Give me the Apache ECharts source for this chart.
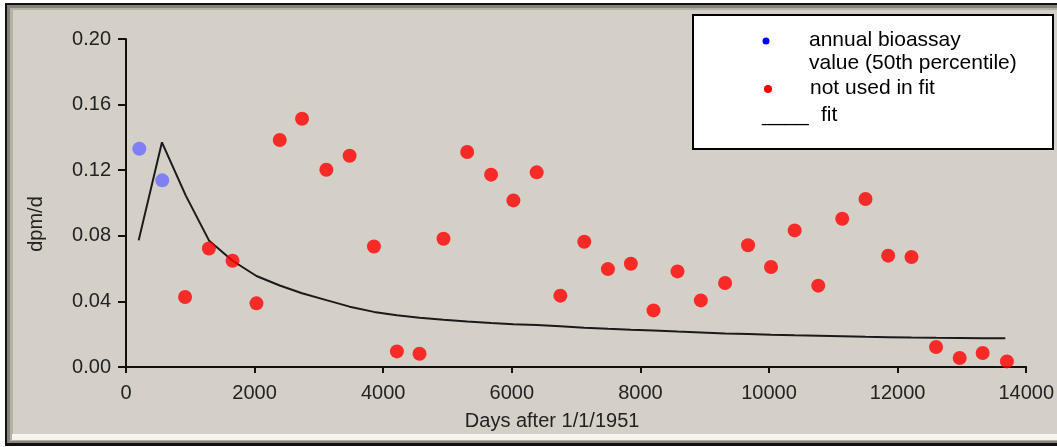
<!DOCTYPE html>
<html>
<head>
<meta charset="utf-8">
<title>dpm/d fit</title>
<script src="https://cdn.jsdelivr.net/npm/echarts@6/dist/echarts.min.js"></script>
<style>
  html, body { margin: 0; padding: 0; background: #fff; }
  #chart { width: 1057px; height: 447px; }
</style>
</head>
<body>
<div id="chart"></div>
<script>
  // values (days after 1/1/1951, dpm/d)
  var bioassayX = [207, 564];
  var bioassayY = [0.1331, 0.1138];

  var notUsedX = [919, 1289, 1657, 2029, 2391, 2738, 3116, 3478, 3856, 4213, 4565, 4938,
    5306, 5678, 6025, 6387, 6755, 7127, 7495, 7852, 8204, 8577, 8940, 9317,
    9674, 10031, 10399, 10766, 11139, 11501, 11853, 12216, 12598, 12966, 13323, 13700];
  var notUsedY = [0.0427, 0.0723, 0.0648, 0.0388, 0.1384, 0.1514, 0.1203, 0.1288, 0.0735, 0.0095, 0.0081, 0.0782,
    0.1311, 0.1173, 0.1016, 0.1187, 0.0435, 0.0764, 0.0597, 0.0630, 0.0345, 0.0583, 0.0406, 0.0512,
    0.0742, 0.0610, 0.0833, 0.0496, 0.0904, 0.1024, 0.0679, 0.0671, 0.0122, 0.0055, 0.0085, 0.0034];

  var fitX = [197, 559, 930, 1290, 1657, 2029, 2391, 2738, 3116, 3478, 3856, 4213, 4565,
    4938, 5306, 5678, 6025, 6387, 6755, 7127, 7495, 7852, 8204, 8577, 8940, 9317,
    9674, 10031, 10399, 10766, 11139, 11501, 11853, 12216, 12598, 12966, 13323, 13675];
  var fitY = [0.0772, 0.137, 0.1045, 0.0772, 0.0648, 0.0555, 0.0497, 0.0450, 0.0408, 0.0368, 0.0336, 0.0316, 0.0301,
    0.0288, 0.0277, 0.0268, 0.0261, 0.0256, 0.0249, 0.0240, 0.0233, 0.0227, 0.0222, 0.0216, 0.0211, 0.0205,
    0.0201, 0.0197, 0.0193, 0.0190, 0.0187, 0.0184, 0.0182, 0.0180, 0.0178, 0.0177, 0.0176, 0.0175];

  var legendLines = ['annual bioassay', 'value (50th percentile)', 'not used in fit', 'fit'];

  function pairs(xs, ys) {
    return xs.map(function (x, i) { return [x, ys[i]]; });
  }

  var font = '"Liberation Sans", Arial, sans-serif';
  var chart = echarts.init(document.getElementById('chart'));

  chart.setOption({
    backgroundColor: '#fff',
    animation: false,
    textStyle: { fontFamily: font },
    grid: { left: 126, right: 29, top: 39, bottom: 80, containLabel: false },
    xAxis: {
      type: 'value',
      min: 0,
      max: 14000,
      interval: 2000,
      name: 'Days after 1/1/1951',
      nameLocation: 'middle',
      nameGap: 44,
      nameTextStyle: { fontSize: 20, color: '#222', fontFamily: font, padding: [0, 48, 0, 0] },
      axisLine: { lineStyle: { color: '#111', width: 2 } },
      axisTick: { length: 6, lineStyle: { color: '#111', width: 2 } },
      axisLabel: {
        fontSize: 20, color: '#222', margin: 16, fontFamily: font,
        formatter: function (v) { return String(v); }
      },
      splitLine: { show: false }
    },
    yAxis: {
      type: 'value',
      min: 0,
      max: 0.2,
      interval: 0.04,
      name: 'dpm/d',
      nameLocation: 'middle',
      nameGap: 80,
      nameRotate: 90,
      nameTextStyle: { fontSize: 20, color: '#222', fontFamily: font, padding: [0, 42, 0, 0] },
      axisLine: { show: true, lineStyle: { color: '#111', width: 2 } },
      axisTick: { show: true, length: 8, lineStyle: { color: '#111', width: 2 } },
      axisLabel: {
        fontSize: 20, color: '#222', margin: 15, fontFamily: font,
        formatter: function (v) { return v.toFixed(2); }
      },
      splitLine: { show: false }
    },
    graphic: [
      // window frame
      { type: 'rect', z: -10, shape: { x: 5, y: 3, width: 1060, height: 443 }, style: { fill: '#111' } },
      { type: 'rect', z: -10, shape: { x: 7, y: 5, width: 1060, height: 438 }, style: { fill: '#85837a' } },
      { type: 'rect', z: -10, shape: { x: 10, y: 8, width: 1060, height: 433 }, style: { fill: '#b4b1a6' } },
      { type: 'rect', z: -10, shape: { x: 12, y: 434, width: 1060, height: 6 }, style: { fill: '#f6f4ec' } },
      { type: 'rect', z: -10, shape: { x: 13, y: 10, width: 1060, height: 424 }, style: { fill: '#d4d0c8' } },
      // legend box
      { type: 'rect', z: 10, shape: { x: 693, y: 15, width: 360, height: 134 },
        style: { fill: '#fff', stroke: '#000', lineWidth: 2 } },
      { type: 'circle', z: 11, shape: { cx: 766, cy: 41, r: 3.5 }, style: { fill: '#0000ff' } },
      { type: 'circle', z: 11, shape: { cx: 768, cy: 89, r: 4 }, style: { fill: '#ff0000' } },
      { type: 'text', z: 11, x: 809, y: 40, style: { text: legendLines[0], font: '21px ' + font, fill: '#000', verticalAlign: 'middle' } },
      { type: 'text', z: 11, x: 809, y: 63, style: { text: legendLines[1], font: '21px ' + font, fill: '#000', verticalAlign: 'middle' } },
      { type: 'text', z: 11, x: 810, y: 88, style: { text: legendLines[2], font: '21px ' + font, fill: '#000', verticalAlign: 'middle' } },
      { type: 'text', z: 11, x: 762, y: 115, style: { text: '____', font: '21px ' + font, fill: '#000', verticalAlign: 'middle' } },
      { type: 'text', z: 11, x: 821, y: 115, style: { text: legendLines[3], font: '21px ' + font, fill: '#000', verticalAlign: 'middle' } }
    ],
    series: [
      {
        name: 'fit',
        type: 'line',
        data: pairs(fitX, fitY),
        showSymbol: false,
        lineStyle: { color: '#1a1a1a', width: 2 },
        z: 2
      },
      {
        name: 'not used in fit',
        type: 'scatter',
        data: pairs(notUsedX, notUsedY),
        symbol: 'circle',
        symbolSize: 14,
        itemStyle: { color: '#ff0000' },
        z: 3
      },
      {
        name: 'annual bioassay value (50th percentile)',
        type: 'scatter',
        data: pairs(bioassayX, bioassayY),
        symbol: 'circle',
        symbolSize: 14,
        itemStyle: { color: '#6a6aff' },
        z: 3
      }
    ]
  });
</script>
</body>
</html>
